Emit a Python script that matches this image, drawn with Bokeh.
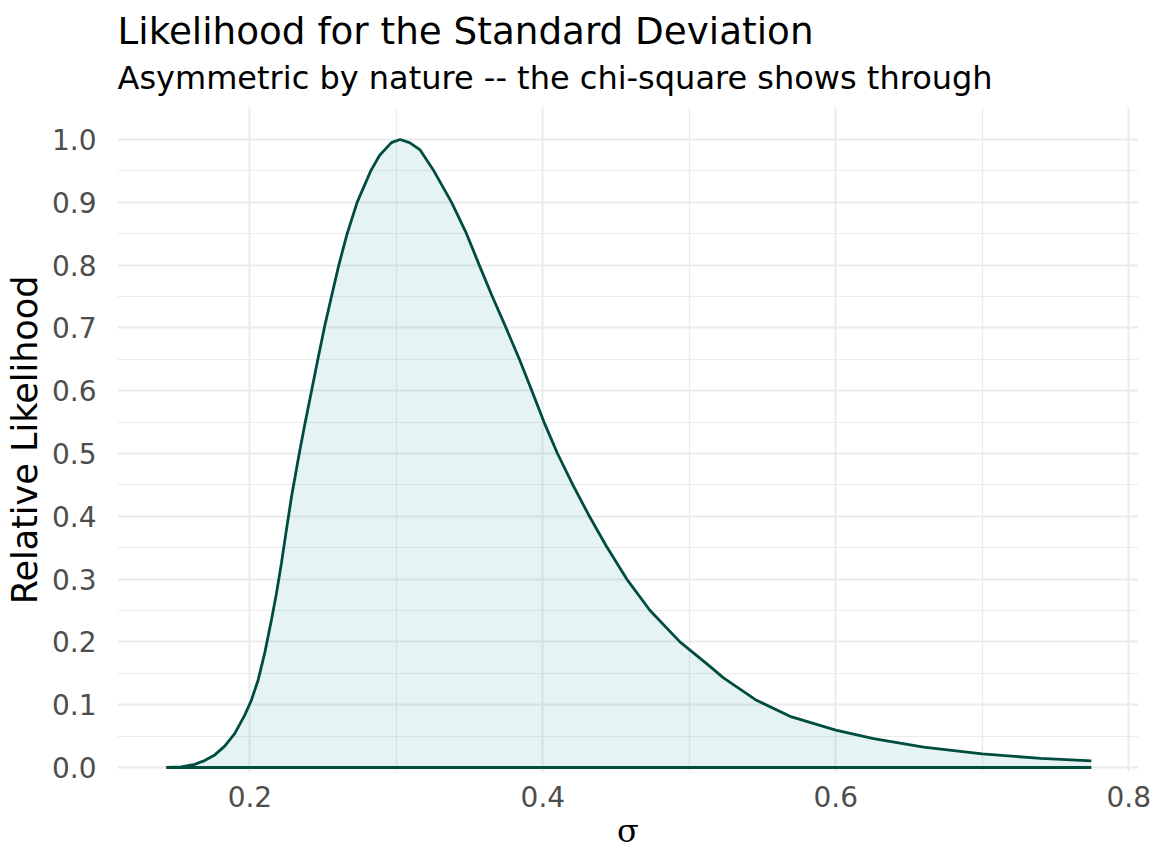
from bokeh.plotting import figure
from bokeh.models import Range1d, FixedTicker, Title, NumeralTickFormatter
from bokeh.embed import file_html
from bokeh.resources import INLINE

# ---- data ----
sigma = [0.143, 0.1532, 0.1623, 0.1691, 0.176, 0.1828, 0.1896, 0.1964, 0.201,
         0.2056, 0.2101, 0.2147, 0.2181, 0.2215, 0.2249, 0.2284, 0.2337, 0.2378,
         0.2421, 0.2464, 0.2508, 0.2557, 0.2607, 0.2664, 0.2732, 0.2825, 0.2886,
         0.2966, 0.3025, 0.309, 0.316, 0.3251, 0.3377, 0.3479, 0.3566, 0.3655,
         0.3749, 0.384, 0.3925, 0.4008, 0.41, 0.4205, 0.4318, 0.4432, 0.4573,
         0.4732, 0.4936, 0.5141, 0.5231, 0.5459, 0.5687, 0.6, 0.6258, 0.66,
         0.7, 0.74, 0.7745]
likelihood = [0.0, 0.001, 0.005, 0.011, 0.020, 0.034, 0.054, 0.083, 0.107,
              0.139, 0.182, 0.235, 0.277, 0.325, 0.378, 0.431, 0.5, 0.55,
              0.6, 0.65, 0.7, 0.75, 0.8, 0.85, 0.9, 0.95, 0.975,
              0.995, 1.0, 0.995, 0.984, 0.952, 0.9, 0.85, 0.8, 0.75,
              0.7, 0.65, 0.6, 0.55, 0.5, 0.45, 0.4, 0.353, 0.3,
              0.25, 0.2, 0.161, 0.143, 0.107, 0.0815, 0.0595, 0.046, 0.0325,
              0.0215, 0.0145, 0.0105]

x_ticks = [0.2, 0.4, 0.6, 0.8]
x_minor = [0.1, 0.3, 0.5, 0.7]
y_ticks = [0.0, 0.1, 0.2, 0.3, 0.4, 0.5, 0.6, 0.7, 0.8, 0.9, 1.0]
y_minor = [0.05, 0.15, 0.25, 0.35, 0.45, 0.55, 0.65, 0.75, 0.85, 0.95]

title_text = "Likelihood for the Standard Deviation"
subtitle_text = "Asymmetric by nature -- the chi-square shows through"
x_label = "σ"
y_label = "Relative Likelihood"

LINE = "#004D40"
FILL = "#009688"
GRID = "#EBEBEB"

p = figure(frame_width=1021, frame_height=665,
           x_range=Range1d(0.1096, 0.8067), y_range=Range1d(-0.008, 1.051),
           output_backend="svg", toolbar_location=None,
           min_border_left=117, min_border_right=14, min_border_top=0,
           min_border_bottom=92)
p.title.text = ""
p.outline_line_color = None
p.background_fill_color = "white"
p.border_fill_color = "white"

# title block: spacer (closest to frame), subtitle, title, spacer (top)
gap_low = Title(text=" ", text_font_size="2px", standoff=4.8)
sub = Title(text=subtitle_text, align="left", text_font="DejaVu Sans",
            text_font_size="32px", text_font_style="normal", text_color="black",
            standoff=3.9)
main = Title(text=title_text, align="left", text_font="DejaVu Sans",
             text_font_size="37.3px", text_font_style="normal", text_color="black",
             standoff=4)
gap_top = Title(text=" ", text_font_size="2px", standoff=0)
for t in (gap_low, sub, main, gap_top):
    p.add_layout(t, "above")

p.xaxis.ticker = FixedTicker(ticks=x_ticks, minor_ticks=x_minor)
p.yaxis.ticker = FixedTicker(ticks=y_ticks, minor_ticks=y_minor)
p.xaxis.formatter = NumeralTickFormatter(format="0.0")
p.yaxis.formatter = NumeralTickFormatter(format="0.0")

for ax in (p.xaxis, p.yaxis):
    ax.axis_line_color = None
    ax.major_tick_line_color = None
    ax.minor_tick_line_color = None
    ax.major_tick_out = 0
    ax.minor_tick_out = 0
    ax.major_label_text_font = "DejaVu Sans"
    ax.major_label_text_font_size = "28px"
    ax.major_label_text_color = "#4D4D4D"
    ax.axis_label_text_font_style = "normal"
    ax.axis_label_text_color = "black"

p.xaxis.axis_label = x_label
p.xaxis.axis_label_text_font = "DejaVu Serif"
p.xaxis.axis_label_text_font_size = "32px"
p.xaxis.major_label_standoff = 13
p.xaxis.axis_label_standoff = 2

p.yaxis.axis_label = y_label
p.yaxis.axis_label_text_font = "DejaVu Sans"
p.yaxis.axis_label_text_font_size = "35px"
p.yaxis.major_label_standoff = 21
p.yaxis.axis_label_standoff = 4

for g in (p.xgrid, p.ygrid):
    g.grid_line_color = GRID
    g.grid_line_width = 2
    g.minor_grid_line_color = GRID
    g.minor_grid_line_width = 1.2

p.varea(x=sigma, y1=[0.0] * len(sigma), y2=likelihood,
        fill_color=FILL, fill_alpha=0.1)
p.line(x=sigma, y=likelihood, line_color=LINE, line_width=2.8)
p.line(x=[sigma[0], sigma[-1]], y=[0.0, 0.0], line_color=LINE, line_width=2.8)

open("out.html", "w").write(file_html(p, INLINE))
